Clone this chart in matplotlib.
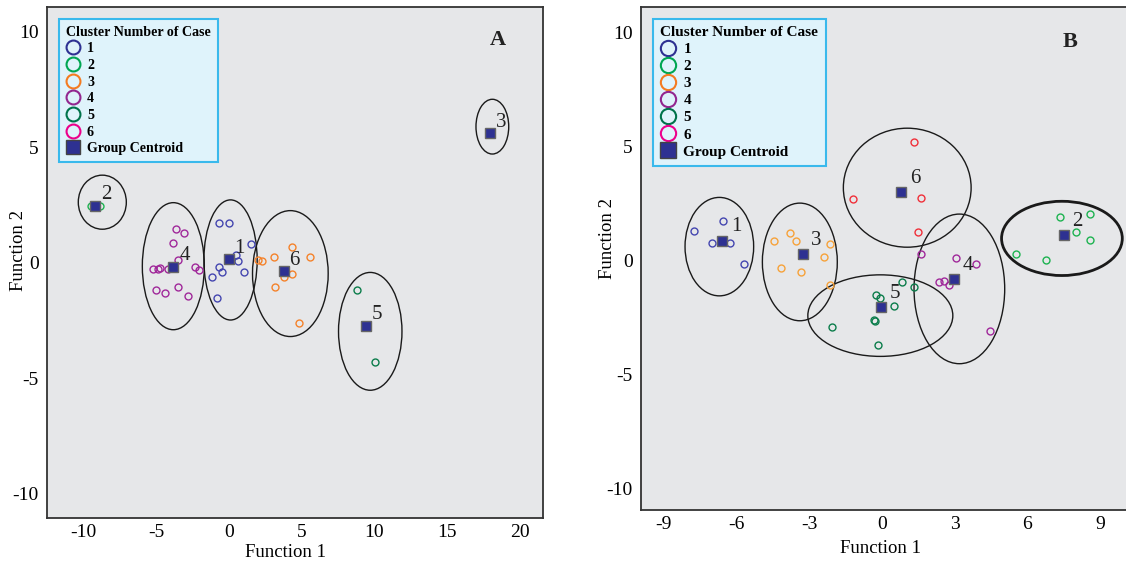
import matplotlib
matplotlib.use("Agg")
import matplotlib.pyplot as plt
from matplotlib.patches import Ellipse
from matplotlib.lines import Line2D

plt.rcParams['font.family'] = ['Liberation Serif', 'DejaVu Serif']
plt.rcParams['axes.unicode_minus'] = False

# ---- panel A data ----
a_pts_x = {
    1: [-0.71, 0.02, 1.51, 0.52, 0.62, -0.71, -0.50, -1.19, 1.05, -0.82],
    2: [-9.5, -8.87],
    3: [17.94],
    4: [-3.66, -3.10, -3.85, -3.52, -5.25, -4.74, -4.86, -4.22, -2.34, -2.04, -5.0, -4.38, -3.48, -2.82],
    5: [8.82, 10.02],
    6: [2.02, 2.29, 3.10, 4.34, 5.59, 3.80, 4.31, 3.19, 4.79],
}
a_pts_y = {
    1: [1.72, 1.72, 0.82, 0.33, 0.10, -0.17, -0.40, -0.62, -0.40, -1.53],
    2: [2.45, 2.45],
    3: [5.61],
    4: [1.46, 1.31, 0.85, 0.13, -0.26, -0.22, -0.27, -0.27, -0.17, -0.30, -1.18, -1.28, -1.02, -1.41],
    5: [-1.17, -4.29],
    6: [0.12, 0.07, 0.26, 0.71, 0.27, -0.62, -0.48, -1.05, -2.58],
}
a_pt_colors = {1: '#4446b0', 2: '#1db350', 3: '#2e3192', 4: '#a0289a', 5: '#0b7d4b', 6: '#f5822a'}
a_cent_x = [-0.02, -9.19, 17.94, -3.82, 9.41, 3.76]
a_cent_y = [0.16, 2.48, 5.61, -0.17, -2.71, -0.36]
a_ell_x = [0.11, -8.7, 18.1, -3.82, 9.71, 4.22]
a_ell_y = [0.13, 2.63, 5.9, -0.14, -2.96, -0.46]
a_ell_w = [3.66, 3.3, 2.25, 4.26, 4.36, 5.2]
a_ell_h = [5.2, 2.34, 2.37, 5.5, 5.1, 5.45]
a_ell_lw = [1.0, 1.0, 1.0, 1.0, 1.0, 1.0]

# ---- panel B data ----
b_pts_x = {
    1: [-7.75, -6.54, -7.02, -6.28, -5.68],
    2: [7.32, 8.56, 8.01, 8.59, 5.53, 6.78],
    3: [-4.45, -3.81, -3.54, -2.15, -2.41, -4.16, -3.34, -2.15],
    4: [1.61, 3.06, 3.86, 2.36, 2.57, 2.78, 4.46],
    5: [-0.23, -0.10, 0.84, 1.30, 0.48, -0.33, -0.31, -2.07, -0.15],
    6: [1.32, -1.19, 1.62, 1.47],
}
b_pts_y = {
    1: [1.31, 1.72, 0.77, 0.76, -0.17],
    2: [1.92, 2.04, 1.24, 0.90, 0.29, 0.03],
    3: [0.87, 1.19, 0.84, 0.73, 0.14, -0.34, -0.52, -1.06],
    4: [0.29, 0.12, -0.17, -0.96, -0.90, -1.09, -3.09],
    5: [-1.50, -1.63, -0.96, -1.15, -1.97, -2.62, -2.66, -2.91, -3.71],
    6: [5.18, 2.68, 2.74, 1.24],
}
b_pt_colors = {1: '#4446b0', 2: '#1db350', 3: '#f7a23a', 4: '#a0289a', 5: '#0b7d4b', 6: '#f0303a'}
b_cent_x = [-6.59, 7.49, -3.27, 2.96, -0.03, 0.80]
b_cent_y = [0.87, 1.10, 0.28, -0.82, -2.05, 3.00]
b_ell_x = [-6.71, 7.42, -3.39, 3.19, -0.07, 1.04]
b_ell_y = [0.61, 0.97, -0.06, -1.24, -2.41, 3.19]
b_ell_w = [2.83, 4.98, 3.09, 3.74, 5.98, 5.27]
b_ell_h = [4.31, 3.25, 5.15, 6.55, 3.57, 5.21]
b_ell_lw = [1.0, 2.0, 1.0, 1.0, 1.0, 1.0]

cluster_ids = [1, 2, 3, 4, 5, 6]
legend_colors = ['#2e3192', '#00a651', '#f47b20', '#92278f', '#00734a', '#ec008c']
centroid_color = '#2e3192'

fig = plt.figure(figsize=(11.26, 5.61), dpi=100)
ax_a = fig.add_axes([0.04174, 0.07665, 0.4405, 0.9109])
ax_b = fig.add_axes([0.5693, 0.0909, 0.4343, 0.8966])


def draw_panel(ax, pts_x, pts_y, pt_colors, cx, cy, ex, ey, ew, eh, elw, lab_off,
               leg_fs, leg_sp, leg_ms, leg_pad):
    ax.set_facecolor('#e6e7e9')
    for k in cluster_ids:
        ax.plot(pts_x[k], pts_y[k], 'o', ms=5, mfc='none', mec=pt_colors[k], mew=1.0, zorder=3)
    for i in range(len(cx)):
        ax.add_patch(Ellipse((ex[i], ey[i]), ew[i], eh[i], fill=False,
                             ec='#1a1a1a', lw=elw[i], zorder=2))
    ax.plot(cx, cy, 's', ms=7.5, mfc=centroid_color, mec='#666666', mew=1.0, zorder=4)
    for i, k in enumerate(cluster_ids):
        ax.annotate(str(k), (cx[i], cy[i]), xytext=lab_off, textcoords='offset points',
                    ha='center', va='center', fontsize=15, color='#222222', zorder=5)

    handles = [Line2D([], [], ls='none', marker='o', ms=leg_ms, mfc='none', mec=c, mew=1.5)
               for c in legend_colors]
    handles.append(Line2D([], [], ls='none', marker='s', ms=leg_ms + 0.5, mfc=centroid_color,
                          mec='#444444', mew=1.0))
    labels = [str(k) for k in cluster_ids] + ['Group Centroid']
    leg = ax.legend(handles, labels, title='Cluster Number of Case', loc='upper left',
                    bbox_to_anchor=(0.024, 0.977), borderaxespad=0, fancybox=False,
                    framealpha=1, facecolor='#dff3fb', edgecolor='#39b9ec',
                    prop={'weight': 'bold', 'size': leg_fs},
                    title_fontproperties={'weight': 'bold', 'size': leg_fs},
                    handlelength=1.0, handletextpad=0.5, labelspacing=leg_sp,
                    borderpad=leg_pad, alignment='left')
    leg.get_frame().set_linewidth(1.5)
    leg.set_zorder(6)

    ax.set_yticks([-10, -5, 0, 5, 10])
    ax.tick_params(length=0, labelsize=14, pad=4)
    ax.tick_params(axis='y', pad=6)
    for s in ax.spines.values():
        s.set_color('#333333')
        s.set_linewidth(1.3)


draw_panel(ax_a, a_pts_x, a_pts_y, a_pt_colors, a_cent_x, a_cent_y,
           a_ell_x, a_ell_y, a_ell_w, a_ell_h, a_ell_lw, (8, 8), 10.1, 0.26, 10, 0.5)
ax_a.set_xlim(-12.5, 21.58)
ax_a.set_ylim(-11.04, 11.08)
ax_a.set_xticks([-10, -5, 0, 5, 10, 15, 20])
ax_a.set_xlabel('Function 1', fontsize=13.5)
ax_a.set_ylabel('Function 2', fontsize=13.5)
ax_a.xaxis.set_label_coords(0.48, -0.05)
ax_a.yaxis.set_label_coords(-0.04, 0.524)
ax_a.text(0.909, 0.935, 'A', transform=ax_a.transAxes, ha='center', va='center',
          fontsize=16, fontweight='bold', color='#222222')

draw_panel(ax_b, b_pts_x, b_pts_y, b_pt_colors, b_cent_x, b_cent_y,
           b_ell_x, b_ell_y, b_ell_w, b_ell_h, b_ell_lw, (10, 10), 11.0, 0.22, 11, 0.5)
ax_b.set_xlim(-9.94, 10.23)
ax_b.set_ylim(-10.92, 11.1)
ax_b.set_xticks([-9, -6, -3, 0, 3, 6, 9])
ax_b.set_xlabel('Function 1', fontsize=13.5)
ax_b.set_ylabel('Function 2', fontsize=13.5)
ax_b.xaxis.set_label_coords(0.49, -0.06)
ax_b.yaxis.set_label_coords(-0.052, 0.54)
ax_b.text(7.76, 9.56, 'B', ha='center', va='center',
          fontsize=16, fontweight='bold', color='#222222')

fig.savefig('out.png', dpi=100)
